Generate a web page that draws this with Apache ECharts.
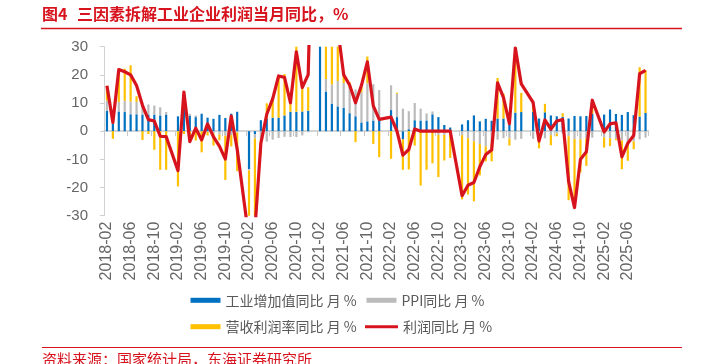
<!DOCTYPE html>
<html>
<head>
<meta charset="utf-8">
<script src="https://cdn.jsdelivr.net/npm/echarts@6/dist/echarts.min.js"></script>
<style>
html,body{margin:0;padding:0;background:#fff;}
#chart{width:712px;height:364px;}
</style>
</head>
<body>
<div id="chart"></div>
<script>
// Monthly categories 2018-02 .. 2025-09 (January values are absent in the source)
const months = [];
for (let y = 2018; y <= 2025; y++) {
  for (let m = 1; m <= 12; m++) {
    if (y === 2018 && m < 2) continue;
    if (y === 2025 && m > 9) continue;
    months.push(y + '-' + (m < 10 ? '0' + m : m));
  }
}

const seriesNames = ['工业增加值同比 月 %', 'PPI同比 月 %', '营收利润率同比 月 %', '利润同比 月 %'];

const ipYoY = [7.2, 2.7, 7.0, 6.8, 6.0, 6.0, 5.9, 5.9, 5.9, 5.6, 5.9, null,
  5.3, 8.0, 5.4, 5.0, 6.2, 4.8, 4.4, 5.8, 4.7, 6.2, 6.9, null,
  -13.5, -1.1, 3.9, 4.4, 4.8, 4.8, 5.6, 6.9, 6.9, 7.0, 7.3, null,
  35.1, 14.1, 9.8, 8.8, 8.3, 6.4, 5.3, 3.1, 3.5, 3.8, 4.3, null,
  7.5, 5.0, -2.9, 0.7, 3.9, 3.8, 3.8, 6.0, 5.0, 2.2, 1.3, null,
  2.4, 3.9, 5.6, 3.5, 4.4, 3.7, 4.5, 4.5, 2.5, 6.6, 6.8, null,
  7.0, 4.5, 6.7, 5.6, 5.3, 5.1, 4.5, 5.4, 5.3, 5.4, 6.2, null,
  5.9, 7.7, 6.1, 5.8, 6.8, 5.7, 5.2, 6.5];

const ppiYoY = [3.7, 0.3, 3.4, 4.0, 4.5, 4.4, 4.0, 3.6, 3.2, 2.9, 0.9, null,
  0.1, 0.4, 0.8, 0.6, 0.0, -0.3, -0.8, -1.2, -1.6, -1.4, -0.5, null,
  -0.4, -1.5, -3.1, -3.7, -3.0, -2.4, -2.0, -2.1, -2.1, -1.5, -0.4, null,
  1.7, 4.4, 6.8, 9.0, 8.8, 9.0, 9.5, 10.7, 13.5, 12.9, 10.3, null,
  8.8, 8.3, 8.0, 6.4, 6.1, 4.2, 2.5, 1.0, -1.3, -1.3, -0.7, null,
  -1.4, -2.5, -3.6, -4.6, -5.4, -4.4, -3.0, -2.5, -2.6, -3.0, -2.7, null,
  -2.7, -2.8, -2.5, -1.4, -0.8, -0.8, -1.8, -2.8, -2.9, -2.5, -2.3, null,
  -2.2, -2.5, -2.7, -3.3, -3.6, -3.6, -2.9, -2.3];

const marginYoY = [5.2, -2.7, 11.5, 11.4, 12.9, 2.0, -3.1, -1.0, -6.6, -13.7, -13.7, null,
  -19.6, -1.0, -3.1, -3.3, -7.5, -1.2, -4.3, -2.0, -15.7, -4.0, -13.7, null,
  -24.4, -32.3, -5.1, 5.5, 6.7, 15.0, 14.7, 5.5, 23.4, 8.6, 8.3, null,
  142.1, 73.8, 40.4, 18.6, 2.9, 2.0, -3.9, 2.5, 9.5, -4.5, -9.2, null,
  -9.8, 0.4, -10.8, -13.6, -5.1, -19.3, -13.7, -11.4, -15.0, -9.1, -8.8, null,
  -22.8, -20.0, -21.3, -11.1, -5.3, -6.3, 14.4, 8.8, -2.5, 23.2, 6.8, null,
  3.0, -3.3, 3.0, -3.6, -1.0, 1.3, -22.7, -24.0, -11.7, -9.8, 4.8, null,
  -3.6, -2.8, -0.5, -10.2, -6.9, -2.8, 17.5, 15.2];

const profitYoY = [16.1, 3.1, 21.9, 21.1, 20.0, 16.2, 9.2, 4.1, 3.6, -1.8, -1.9, null,
  -14.0, 13.9, -3.7, 1.1, -3.1, 2.6, -2.0, -5.3, -9.9, 5.4, -6.3, null,
  -38.3, -34.9, -4.3, 6.0, 11.5, 19.6, 19.1, 10.1, 28.2, 15.5, 20.1, null,
  178.9, 92.3, 57.0, 36.4, 20.0, 16.4, 10.1, 16.3, 24.6, 9.0, 4.2, null,
  5.0, 0, -8.5, -6.5, 0.8, 0, 0, 0, 0, 0, 0, null,
  -22.9, -19.2, -18.2, -12.6, -8.3, -6.7, 17.2, 11.9, 2.7, 29.5, 16.8, null,
  10.2, -3.5, 4.0, 0.7, 3.6, 4.1, -17.8, -27.1, -10.0, -7.3, 11.0, null,
  -0.3, 2.6, 3.0, -9.1, -4.3, -1.5, 20.4, 21.6];

const yTicks = { min: -30, max: 30, interval: 10 };

const RED = '#D7141E';
const LATIN = "'Liberation Sans', 'Noto Sans CJK SC', sans-serif";
const CJK = "'Noto Sans CJK SC', sans-serif";

const chart = echarts.init(document.getElementById('chart'), null, { renderer: 'canvas' });

const legendBase = {
  orient: 'horizontal', padding: 0, itemGap: 0,
  itemWidth: 30, itemHeight: 5,
  textStyle: { fontSize: 14, color: '#595959', fontFamily: CJK },
  selectedMode: false
};

const option = {
  animation: false,
  backgroundColor: '#ffffff',
  grid: { left: 104, right: 63.5, top: 46.7, bottom: 148.3, containLabel: false },
  legend: [
    Object.assign({}, legendBase, { data: [{ name: seriesNames[0], icon: 'rect' }], left: 190.5, top: 293.3 }),
    Object.assign({}, legendBase, { data: [{ name: seriesNames[1], icon: 'rect' }], left: 366.5, top: 293.3 }),
    Object.assign({}, legendBase, { data: [{ name: seriesNames[2], icon: 'rect' }], left: 190.5, top: 319.7 }),
    Object.assign({}, legendBase, { data: [{ name: seriesNames[3], icon: 'rect' }], left: 365, top: 319.7, itemWidth: 33, itemHeight: 3 })
  ],
  xAxis: [
    {
      type: 'category', data: months, boundaryGap: true, position: 'bottom',
      axisLine: { show: true, onZero: true, lineStyle: { color: '#c8c8c8', width: 1.5 } },
      axisTick: { show: true, interval: 3, length: 5, lineStyle: { color: '#c8c8c8' } },
      axisLabel: { show: false },
      splitLine: { show: false }
    },
    {
      type: 'category', data: months, boundaryGap: true, position: 'bottom',
      axisLine: { show: false, onZero: false },
      axisTick: { show: false },
      axisLabel: { show: true, interval: 3, rotate: 90, margin: 6, fontSize: 16, color: '#666666', fontFamily: LATIN },
      splitLine: { show: false }
    }
  ],
  yAxis: {
    type: 'value', min: yTicks.min, max: yTicks.max, interval: yTicks.interval,
    axisLine: { show: true, lineStyle: { color: '#d0d0d0', width: 1 } },
    axisTick: { show: true, length: 4, lineStyle: { color: '#d0d0d0' } },
    axisLabel: { fontSize: 15, color: '#666666', margin: 16, fontFamily: LATIN },
    splitLine: { show: false }
  },
  series: [
    { name: seriesNames[0], type: 'bar', stack: 'total', data: ipYoY, barWidth: 2.2, itemStyle: { color: '#0070C0' }, xAxisIndex: 0 },
    { name: seriesNames[1], type: 'bar', stack: 'total', data: ppiYoY, barWidth: 2.2, itemStyle: { color: '#BBBBBB' }, xAxisIndex: 0 },
    { name: seriesNames[2], type: 'bar', stack: 'total', data: marginYoY, barWidth: 2.2, itemStyle: { color: '#FFC000' }, xAxisIndex: 0 },
    { name: seriesNames[3], type: 'line', data: profitYoY, xAxisIndex: 0, connectNulls: true,
      symbol: 'none', showSymbol: false, z: 5,
      lineStyle: { color: RED, width: 3.2, join: 'round' }, itemStyle: { color: RED } }
  ],
  graphic: [
    { type: 'text', left: 42, top: 6, style: { text: '图4', fill: RED, font: "bold 16px 'Noto Sans CJK SC'" } },
    { type: 'text', left: 77, top: 6, style: { text: '三因素拆解工业企业利润当月同比，%', fill: RED, font: "bold 16px 'Noto Sans CJK SC'" } },
    { type: 'line', shape: { x1: 41, y1: 28.5, x2: 682, y2: 28.5 }, style: { stroke: RED, lineWidth: 1.5 } },
    { type: 'line', shape: { x1: 42, y1: 347.5, x2: 682, y2: 347.5 }, style: { stroke: RED, lineWidth: 1.2 } },
    { type: 'text', left: 42, top: 352, style: { text: '资料来源：国家统计局，东海证券研究所', fill: RED, font: "15px 'Noto Sans CJK SC'" } }
  ]
};

chart.setOption(option);
</script>
</body>
</html>
